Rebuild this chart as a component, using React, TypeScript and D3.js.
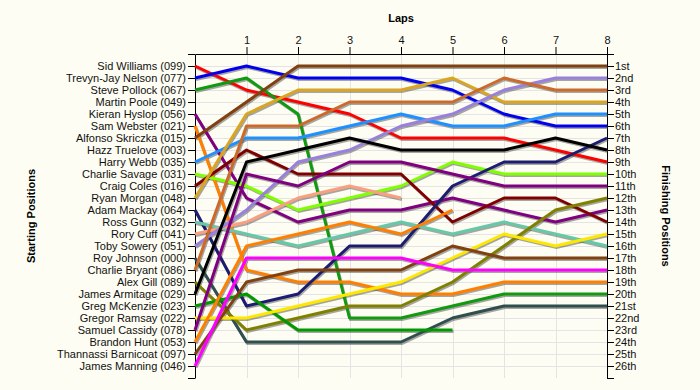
import * as d3 from 'd3';
import { useEffect, useRef } from 'react';

// starting grid, top to bottom
const starters = [
  'Sid Williams (099)', 'Trevyn-Jay Nelson (077)', 'Steve Pollock (067)', 'Martin Poole (049)',
  'Kieran Hyslop (056)', 'Sam Webster (021)', 'Alfonso Skriczka (015)', 'Hazz Truelove (003)',
  'Harry Webb (035)', 'Charlie Savage (031)', 'Craig Coles (016)', 'Ryan Morgan (048)',
  'Adam Mackay (064)', 'Ross Gunn (032)', 'Rory Cuff (041)', 'Toby Sowery (051)',
  'Roy Johnson (000)', 'Charlie Bryant (086)', 'Alex Gill (089)', 'James Armitage (029)',
  'Greg McKenzie (023)', 'Gregor Ramsay (022)', 'Samuel Cassidy (078)', 'Brandon Hunt (053)',
  'Thannassi Barnicoat (097)', 'James Manning (046)',
];

const finishLabels = [
  '1st', '2nd', '3rd', '4th', '5th', '6th', '7th', '8th', '9th', '10th', '11th', '12th', '13th',
  '14th', '15th', '16th', '17th', '18th', '19th', '20th', '21st', '22nd', '23rd', '24th', '25th', '26th',
];

const lapTicks = [1, 2, 3, 4, 5, 6, 7, 8];

// position at lap 0..8, same order as starters (empty = did not start)
const racePositions: number[][] = [
  [1, 3, 4, 5, 7, 7, 7, 8, 9],
  [2, 1, 2, 2, 2, 3, 5, 6, 6],
  [3, 2, 5, 22, 22, 21, 20, 20, 20],
  [],
  [5, 12, 14, 13, 13, 12, 13, 14, 13],
  [6, 18, 19, 19, 20, 20, 19, 19, 19],
  [7, 4, 1, 1, 1, 1, 1, 1, 1],
  [],
  [9, 7, 7, 6, 5, 6, 6, 5, 5],
  [10, 11, 13, 12, 11, 9, 10, 10, 10],
  [11, 8, 10, 10, 10, 14, 12, 12, 14],
  [12, 5, 3, 3, 3, 2, 4, 4, 4],
  [13, 21, 20, 16, 16, 11, 9, 9, 7],
  [14, 15, 16, 15, 14, 15, 14, 15, 16],
  [15, 14, 12, 11, 12],
  [16, 13, 9, 8, 6, 5, 3, 2, 2],
  [17, 24, 24, 24, 24, 22, 21, 21, 21],
  [18, 6, 6, 4, 4, 4, 2, 3, 3],
  [19, 23, 22, 21, 21, 19, 16, 13, 12],
  [20, 9, 8, 7, 8, 8, 8, 7, 8],
  [21, 20, 23, 23, 23, 23],
  [22, 22, 21, 20, 19, 17, 15, 16, 15],
  [23, 10, 11, 9, 9, 10, 11, 11, 11],
  [24, 16, 15, 14, 15, 13],
  [25, 19, 18, 18, 18, 16, 17, 17, 17],
  [26, 17, 17, 17, 17, 18, 18, 18, 18],
];

const lineColors = [
  '#ff0000', '#0000ee', '#119911', '#999999', '#800080', '#ff8000', '#804010', '#999999',
  '#1e90ff', '#80ff00', '#800000', '#daa520', '#1c1c70', '#66c8a8', '#f8a080', '#9880dc',
  '#2f4f4f', '#cc6a2c', '#808000', '#000000', '#009900', '#ffe800', '#800080', '#ff8000',
  '#804010', '#ff00ff',
];

export default function App() {
  const svgRef = useRef<SVGSVGElement>(null);

  useEffect(() => {
    const w = 700;
    const h = 390;
    const svg = d3.select(svgRef.current);
    svg.selectAll('*').remove();

    const left = 195;
    const right = 607;
    const top = 54;
    const bottom = 378;

    const x = d3.scaleLinear().domain([0, 8]).range([left, right]);
    const y = d3.scaleLinear().domain([0, 27]).range([top, bottom]);

    svg.append('rect').attr('width', w).attr('height', h).attr('fill', '#fdfdf3');

    // grid
    const grid = svg.append('g').attr('stroke', '#e4e4e4').attr('stroke-width', 1);
    d3.range(1, 27).forEach((p) => {
      grid.append('line')
        .attr('x1', left).attr('x2', right)
        .attr('y1', Math.round(y(p)) + 0.5).attr('y2', Math.round(y(p)) + 0.5);
    });
    d3.range(1, 8).forEach((l) => {
      grid.append('line')
        .attr('x1', Math.round(x(l)) + 0.5).attr('x2', Math.round(x(l)) + 0.5)
        .attr('y1', top).attr('y2', bottom);
    });

    const font = "'Liberation Sans', Arial, sans-serif";

    // axes
    const leftAxis = d3.axisLeft(y)
      .tickValues(d3.range(0, 28))
      .tickSize(7)
      .tickSizeOuter(0)
      .tickFormat((d) => starters[(d as number) - 1] ?? '');
    svg.append('g').attr('transform', `translate(${left},0)`).call(leftAxis)
      .call((g) => g.selectAll('text').style('font', `11px ${font}`).attr('fill', '#111').attr('x', -9));

    const rightAxis = d3.axisRight(y)
      .tickValues(d3.range(0, 28))
      .tickSize(7)
      .tickSizeOuter(0)
      .tickFormat((d) => finishLabels[(d as number) - 1] ?? '');
    svg.append('g').attr('transform', `translate(${right},0)`).call(rightAxis)
      .call((g) => g.selectAll('text').style('font', `11px ${font}`).attr('fill', '#111').attr('x', 8));

    const topAxis = d3.axisTop(x)
      .tickValues(lapTicks)
      .tickSize(7)
      .tickSizeOuter(0)
      .tickFormat(d3.format('d'));
    svg.append('g').attr('transform', `translate(0,${top})`).call(topAxis)
      .call((g) => g.selectAll('text').style('font', `11px ${font}`).attr('fill', '#111'));

    // lines
    const line = d3.line<number>()
      .x((d, i) => x(i))
      .y((d) => y(d));

    const runs = racePositions
      .map((pos, i) => ({ pos, color: lineColors[i] }))
      .filter((r) => r.pos.length > 0);

    svg.append('g')
      .selectAll('path')
      .data(runs)
      .join('path')
      .attr('d', (d) => line(d.pos))
      .attr('transform', 'translate(1,1.5)')
      .attr('fill', 'none')
      .attr('stroke', 'rgba(60,60,60,0.45)')
      .attr('stroke-width', 3);

    svg.append('g')
      .selectAll('path')
      .data(runs)
      .join('path')
      .attr('d', (d) => line(d.pos))
      .attr('fill', 'none')
      .attr('stroke', (d) => d.color)
      .attr('stroke-width', 3)
      .attr('stroke-linejoin', 'round');

    // titles
    svg.append('text')
      .attr('x', (left + right) / 2)
      .attr('y', 22)
      .attr('text-anchor', 'middle')
      .style('font', `bold 11px ${font}`)
      .text('Laps');

    svg.append('text')
      .attr('transform', `translate(35,${(top + bottom) / 2}) rotate(-90)`)
      .attr('text-anchor', 'middle')
      .style('font', `bold 11px ${font}`)
      .text('Starting Positions');

    svg.append('text')
      .attr('transform', `translate(662,${(top + bottom) / 2}) rotate(90)`)
      .attr('text-anchor', 'middle')
      .style('font', `bold 11px ${font}`)
      .text('Finishing Positions');
  });

  return (
    <div style={{ position: 'absolute', left: 0, top: 0 }}>
      <svg ref={svgRef} width={700} height={390} style={{ display: 'block' }}></svg>
    </div>
  );
}
